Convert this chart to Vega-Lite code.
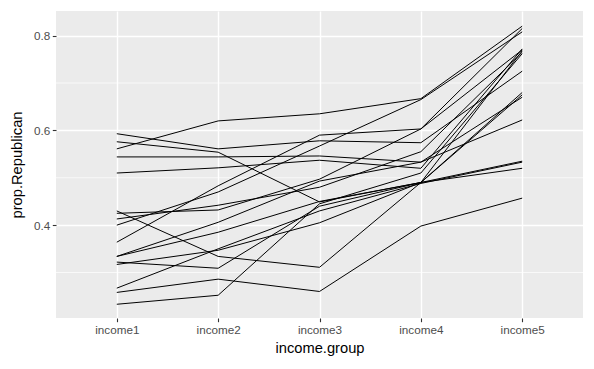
{
  "$schema": "https://vega.github.io/schema/vega-lite/v6.json",
  "width": 527,
  "height": 307,
  "autosize": {"type": "none"},
  "padding": {"left": 56, "top": 11, "right": 11, "bottom": 51},
  "config": {
    "view": {"fill": "#EBEBEB", "stroke": null},
    "font": "Liberation Sans",
    "axis": {
      "domain": false,
      "grid": true,
      "gridColor": "white",
      "gridWidth": 1.4,
      "tickColor": "#333333",
      "tickSize": 3.7,
      "tickWidth": 1.1,
      "labelColor": "#4D4D4D",
      "labelFontSize": 11.7,
      "labelPadding": 2.5,
      "titleColor": "#000000",
      "titleFontSize": 14.7,
      "titleFontWeight": "normal"
    }
  },
  "encoding": {
    "y": {
      "field": "v",
      "type": "quantitative",
      "scale": {"domain": [0.204, 0.852], "nice": false, "zero": false},
      "axis": {"values": [0.4, 0.6, 0.8], "format": ".1f", "title": "prop.Republican", "titlePadding": 9}
    }
  },
  "layer": [
    {
      "data": {"values": [{"v": 0.3}, {"v": 0.5}, {"v": 0.7}]},
      "mark": {"type": "rule", "color": "white", "strokeWidth": 0.7},
      "encoding": {}
    },
    {
      "data": {"values": [
        {"s": 1, "g": "income1", "v": 0.561}, {"s": 1, "g": "income2", "v": 0.620}, {"s": 1, "g": "income3", "v": 0.635}, {"s": 1, "g": "income4", "v": 0.667}, {"s": 1, "g": "income5", "v": 0.820},
        {"s": 2, "g": "income1", "v": 0.364}, {"s": 2, "g": "income2", "v": 0.483}, {"s": 2, "g": "income3", "v": 0.590}, {"s": 2, "g": "income4", "v": 0.603}, {"s": 2, "g": "income5", "v": 0.770},
        {"s": 3, "g": "income1", "v": 0.400}, {"s": 3, "g": "income2", "v": 0.470}, {"s": 3, "g": "income3", "v": 0.567}, {"s": 3, "g": "income4", "v": 0.665}, {"s": 3, "g": "income5", "v": 0.808},
        {"s": 4, "g": "income1", "v": 0.576}, {"s": 4, "g": "income2", "v": 0.554}, {"s": 4, "g": "income3", "v": 0.449}, {"s": 4, "g": "income4", "v": 0.490}, {"s": 4, "g": "income5", "v": 0.680},
        {"s": 5, "g": "income1", "v": 0.593}, {"s": 5, "g": "income2", "v": 0.561}, {"s": 5, "g": "income3", "v": 0.578}, {"s": 5, "g": "income4", "v": 0.574}, {"s": 5, "g": "income5", "v": 0.725},
        {"s": 6, "g": "income1", "v": 0.544}, {"s": 6, "g": "income2", "v": 0.544}, {"s": 6, "g": "income3", "v": 0.546}, {"s": 6, "g": "income4", "v": 0.533}, {"s": 6, "g": "income5", "v": 0.622},
        {"s": 7, "g": "income1", "v": 0.510}, {"s": 7, "g": "income2", "v": 0.521}, {"s": 7, "g": "income3", "v": 0.537}, {"s": 7, "g": "income4", "v": 0.520}, {"s": 7, "g": "income5", "v": 0.772},
        {"s": 8, "g": "income1", "v": 0.430}, {"s": 8, "g": "income2", "v": 0.334}, {"s": 8, "g": "income3", "v": 0.311}, {"s": 8, "g": "income4", "v": 0.490}, {"s": 8, "g": "income5", "v": 0.768},
        {"s": 9, "g": "income1", "v": 0.233}, {"s": 9, "g": "income2", "v": 0.252}, {"s": 9, "g": "income3", "v": 0.445}, {"s": 9, "g": "income4", "v": 0.510}, {"s": 9, "g": "income5", "v": 0.762},
        {"s": 10, "g": "income1", "v": 0.258}, {"s": 10, "g": "income2", "v": 0.286}, {"s": 10, "g": "income3", "v": 0.260}, {"s": 10, "g": "income4", "v": 0.398}, {"s": 10, "g": "income5", "v": 0.457},
        {"s": 11, "g": "income1", "v": 0.267}, {"s": 11, "g": "income2", "v": 0.350}, {"s": 11, "g": "income3", "v": 0.430}, {"s": 11, "g": "income4", "v": 0.488}, {"s": 11, "g": "income5", "v": 0.533},
        {"s": 12, "g": "income1", "v": 0.322}, {"s": 12, "g": "income2", "v": 0.309}, {"s": 12, "g": "income3", "v": 0.440}, {"s": 12, "g": "income4", "v": 0.490}, {"s": 12, "g": "income5", "v": 0.675},
        {"s": 13, "g": "income1", "v": 0.334}, {"s": 13, "g": "income2", "v": 0.406}, {"s": 13, "g": "income3", "v": 0.493}, {"s": 13, "g": "income4", "v": 0.533}, {"s": 13, "g": "income5", "v": 0.670},
        {"s": 14, "g": "income1", "v": 0.334}, {"s": 14, "g": "income2", "v": 0.385}, {"s": 14, "g": "income3", "v": 0.450}, {"s": 14, "g": "income4", "v": 0.490}, {"s": 14, "g": "income5", "v": 0.535},
        {"s": 15, "g": "income1", "v": 0.317}, {"s": 15, "g": "income2", "v": 0.347}, {"s": 15, "g": "income3", "v": 0.405}, {"s": 15, "g": "income4", "v": 0.490}, {"s": 15, "g": "income5", "v": 0.520},
        {"s": 16, "g": "income1", "v": 0.425}, {"s": 16, "g": "income2", "v": 0.432}, {"s": 16, "g": "income3", "v": 0.497}, {"s": 16, "g": "income4", "v": 0.603}, {"s": 16, "g": "income5", "v": 0.815},
        {"s": 17, "g": "income1", "v": 0.413}, {"s": 17, "g": "income2", "v": 0.442}, {"s": 17, "g": "income3", "v": 0.480}, {"s": 17, "g": "income4", "v": 0.555}, {"s": 17, "g": "income5", "v": 0.765}
      ]},
      "mark": {"type": "line", "color": "black", "strokeWidth": 1},
      "encoding": {
        "x": {
          "field": "g",
          "type": "ordinal",
          "scale": {"type": "point", "padding": 0.6},
          "axis": {"title": "income.group", "labelAngle": 0, "titlePadding": 5}
        },
        "detail": {"field": "s", "type": "nominal"}
      }
    }
  ]
}
